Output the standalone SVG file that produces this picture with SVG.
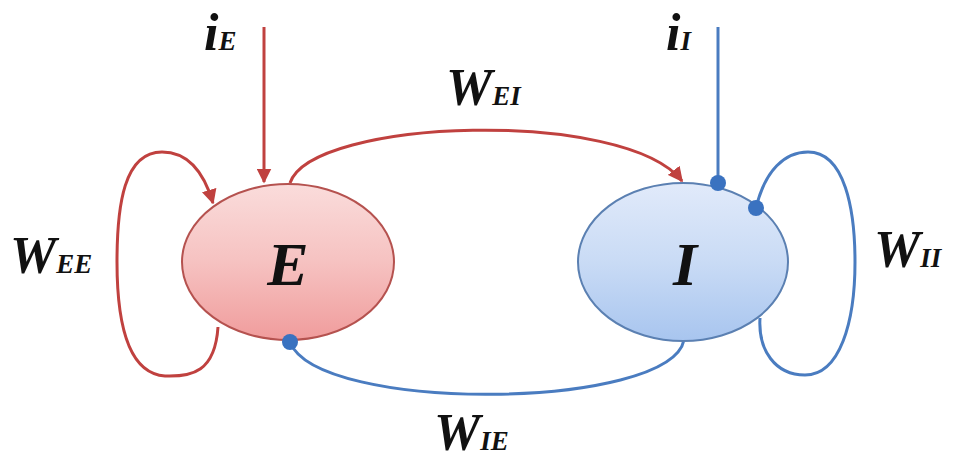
<svg xmlns="http://www.w3.org/2000/svg" width="960" height="462" viewBox="0 0 960 462">
<defs>
<linearGradient id="gE" x1="0" y1="0" x2="0" y2="1">
<stop offset="0" stop-color="#fadcdb"/>
<stop offset="0.5" stop-color="#f6c2c1"/>
<stop offset="1" stop-color="#f09c9c"/>
</linearGradient>
<linearGradient id="gI" x1="0" y1="0" x2="0" y2="1">
<stop offset="0" stop-color="#e1eafa"/>
<stop offset="0.5" stop-color="#c9dbf5"/>
<stop offset="1" stop-color="#a8c5ef"/>
</linearGradient>
<marker id="arR" viewBox="0 0 10 10" refX="9" refY="5" markerWidth="5" markerHeight="5" markerUnits="strokeWidth" orient="auto">
<path d="M0,0 L10,5 L0,10 z" fill="#c0413f"/>
</marker>
</defs>
<style>
.red{fill:none;stroke:#c0413f;stroke-width:3}
.blue{fill:none;stroke:#4a7cc0;stroke-width:3}
.dot{fill:#3a72c0}
.lbl{font-family:"Liberation Serif","Times New Roman",serif;font-weight:bold;font-style:italic;font-size:52px;fill:#111}
.sub{font-size:27px}
.node{font-family:"Liberation Serif","Times New Roman",serif;font-weight:bold;font-style:italic;font-size:62px;fill:#111}
</style>
<g id="connectors">
<path class="red" d="M264,27 L264,182" marker-end="url(#arR)"/>
<path class="red" d="M290,183 C312,118 625,108 682,181" marker-end="url(#arR)"/>
<path class="red" d="M218,327 C215,372 192,377 165,376 C122,373 117,305 117,262 C117,205 124,152 162,152 C190,152 205,176 213,203" marker-end="url(#arR)"/>
<path class="blue" d="M718,27 L718,183"/>
<path class="blue" d="M756,208 C765,170 785,152 808,152 C845,152 855,210 855,262 C855,322 840,375 805,375 C775,375 758,350 760,318"/>
<path class="blue" d="M684,340 C670,410 318,414 290,342"/>
</g>
<g id="E">
<ellipse cx="288" cy="262" rx="106" ry="78" fill="url(#gE)" stroke="#b5524f" stroke-width="2"/>
<text class="node" x="288" y="285" text-anchor="middle">E</text>
</g>
<g id="I">
<ellipse cx="683" cy="262" rx="105" ry="79" fill="url(#gI)" stroke="#5b80b2" stroke-width="2"/>
<text class="node" x="685" y="285" text-anchor="middle">I</text>
</g>
<g id="dots">
<circle class="dot" cx="718" cy="183" r="8"/>
<circle class="dot" cx="756" cy="208" r="8"/>
<circle class="dot" cx="290" cy="342" r="8"/>
</g>
<g id="labels">
<text class="lbl" x="204" y="50">i<tspan class="sub">E</tspan></text>
<text class="lbl" x="666" y="50">i<tspan class="sub">I</tspan></text>
<text class="lbl" x="446" y="105">W<tspan class="sub">EI</tspan></text>
<text class="lbl" x="10" y="273">W<tspan class="sub">EE</tspan></text>
<text class="lbl" x="874" y="267">W<tspan class="sub">II</tspan></text>
<text class="lbl" x="434" y="450">W<tspan class="sub">IE</tspan></text>
</g>
</svg>
